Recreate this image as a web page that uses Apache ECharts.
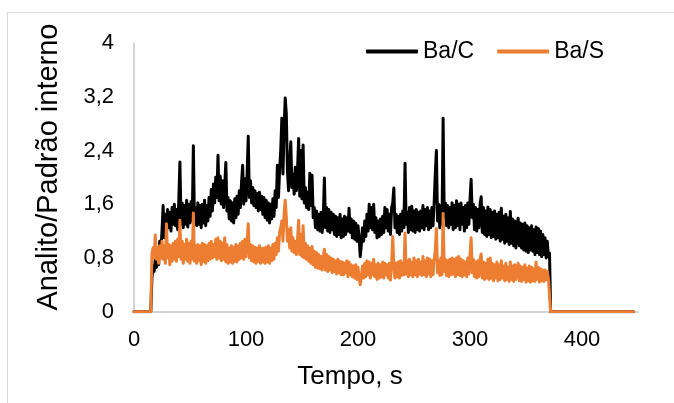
<!DOCTYPE html>
<html>
<head>
<meta charset="utf-8">
<script src="https://cdn.jsdelivr.net/npm/echarts@6/dist/echarts.min.js"></script>
<style>html,body{margin:0;padding:0;background:#fff;}#c{width:674px;height:403px;}</style>
</head>
<body>
<div id="c"></div>
<script>
// Time axis: samples are 1 s apart, starting at tStart (s)
const tStart = 16;
const tStep = 1;
// baseline (zero) segments before and after the ablation signal
const leadTimes = [0, 15];
const tailTimes = [372, 446];
const xTicks = [0, 100, 200, 300, 400];
const yTicks = [0, 0.8, 1.6, 2.4, 3.2, 4];

const baC = [
  0.50,0.68,0.60,0.78,0.66,0.82,0.70,1.05,0.90,1.20,
  1.58,1.10,1.45,1.18,1.52,1.25,1.48,1.20,1.55,1.30,
  1.60,1.28,1.52,1.22,1.66,2.23,1.30,1.62,1.25,1.58,
  1.30,1.66,1.26,1.60,1.32,1.64,1.35,2.47,1.30,1.55,
  1.28,1.62,1.30,1.58,1.25,1.60,1.32,1.66,1.28,1.58,
  1.35,1.70,1.42,1.82,1.50,1.90,1.62,2.00,1.70,2.33,
  1.65,2.02,1.60,1.95,1.55,1.88,2.22,1.50,1.70,1.38,
  1.65,1.35,1.62,1.32,1.68,1.40,1.72,1.45,1.80,1.55,
  1.92,2.18,1.60,1.98,1.65,2.05,2.61,1.70,1.95,1.62,
  1.85,1.58,1.80,1.55,1.76,1.50,1.78,1.52,1.72,1.45,
  1.70,1.40,1.66,1.36,1.62,1.32,1.60,1.38,1.68,1.42,
  1.80,1.55,2.18,1.70,2.10,2.40,2.88,2.05,2.70,3.18,
  2.95,2.10,1.80,2.20,2.53,1.85,2.05,1.75,2.15,1.80,
  2.10,2.58,1.72,2.40,1.68,2.48,1.62,1.85,1.55,1.78,
  1.52,2.06,1.58,2.03,1.40,1.55,1.25,1.50,1.22,1.45,
  1.20,1.48,1.18,1.42,1.99,1.25,1.55,1.20,1.52,1.18,
  1.48,1.22,1.45,1.15,1.42,1.12,1.40,1.15,1.45,1.10,
  1.38,1.12,1.42,1.15,1.40,1.20,1.54,1.18,1.38,1.10,
  1.35,1.08,1.32,1.05,1.28,1.10,0.82,1.00,1.25,1.05,
  1.35,1.12,1.45,1.20,1.60,1.25,1.55,1.22,1.60,1.18,
  1.40,1.10,1.35,1.12,1.38,1.15,1.42,1.18,1.55,1.25,
  1.52,1.20,1.45,1.15,1.55,1.62,1.84,1.25,1.45,1.18,
  1.42,1.15,1.45,1.20,1.50,1.25,2.21,1.30,1.48,1.18,
  1.55,1.22,1.57,1.20,1.50,1.18,1.52,1.22,1.48,1.20,
  1.50,1.25,1.58,1.22,1.52,1.28,1.55,1.22,1.50,1.25,
  1.55,1.28,1.62,2.05,2.40,1.35,1.60,1.25,1.58,1.30,
  2.88,1.40,1.62,1.28,1.58,1.25,1.55,1.30,1.62,1.22,
  1.58,1.25,1.65,1.28,1.60,1.22,1.62,1.30,1.55,1.20,
  1.58,1.25,1.62,1.30,1.66,1.97,1.40,1.60,1.22,1.55,
  1.20,1.52,1.25,1.60,1.71,1.18,1.55,1.15,1.50,1.12,
  1.56,1.15,1.52,1.10,1.48,1.12,1.50,1.08,1.45,1.10,
  1.48,1.05,1.54,1.08,1.42,1.02,1.45,1.05,1.40,1.00,
  1.49,1.02,1.38,0.98,1.35,0.95,1.30,1.39,0.98,1.32,
  0.95,1.30,0.92,1.32,0.90,1.28,0.88,1.25,0.92,1.28,
  0.90,1.22,0.85,1.26,0.88,1.24,0.85,1.20,0.82,1.15,
  0.85,1.10,0.80,1.05,0.82,0.87
];

const baS = [
  0.85,0.95,0.80,1.14,0.78,0.95,0.72,0.98,0.80,1.05,
  0.78,0.98,0.72,1.31,0.80,1.00,0.70,0.98,0.75,1.02,
  0.78,1.05,0.75,1.08,0.82,1.36,0.78,1.05,0.72,1.00,
  0.78,1.08,0.75,1.02,0.72,1.05,0.78,1.47,0.75,0.98,
  0.72,1.00,0.76,0.98,0.70,1.02,0.75,1.00,0.72,0.98,
  0.76,1.02,0.78,1.05,0.80,1.00,0.82,1.08,0.78,1.10,
  0.80,1.05,0.76,1.02,0.78,1.10,0.74,1.00,0.72,0.95,
  0.74,0.98,0.72,0.96,0.75,1.00,0.74,0.98,0.78,1.02,
  0.80,1.05,0.78,1.08,0.82,1.02,1.31,0.80,1.00,0.76,
  0.98,0.74,0.96,0.72,0.95,0.75,0.98,0.72,0.94,0.74,
  0.95,0.72,0.96,0.74,0.98,0.72,0.95,0.76,1.00,0.78,
  1.02,0.85,1.10,0.90,1.18,1.25,1.35,1.05,1.45,1.66,
  1.40,1.05,1.22,0.95,1.25,0.90,1.10,0.88,1.05,0.85,
  1.08,1.36,0.85,1.15,0.82,1.28,0.80,1.02,0.78,0.98,
  0.75,0.95,0.72,0.97,0.70,0.90,0.66,0.88,0.65,0.85,
  0.64,0.82,0.62,0.80,0.93,0.62,0.85,0.60,0.82,0.62,
  0.80,0.58,0.78,0.60,0.76,0.56,0.78,0.58,0.75,0.55,
  0.74,0.55,0.72,0.58,0.76,0.52,0.74,0.55,0.70,0.52,
  0.68,0.50,0.70,0.48,0.66,0.50,0.40,0.52,0.68,0.50,
  0.72,0.52,0.76,0.55,0.74,0.50,0.72,0.55,0.78,0.52,
  0.70,0.48,0.72,0.50,0.70,0.52,0.74,0.50,0.72,0.55,
  0.70,0.50,0.72,0.47,0.68,1.12,0.70,0.50,0.72,0.52,
  0.74,0.50,0.76,0.54,0.72,0.55,1.17,0.56,0.76,0.52,
  0.78,0.55,0.74,0.52,0.80,0.55,0.76,0.52,0.78,0.56,
  0.74,0.54,0.82,0.55,0.76,0.52,0.80,0.56,0.78,0.52,
  0.76,0.55,0.78,0.90,1.24,0.58,0.76,0.54,0.80,0.55,
  1.46,0.60,0.78,0.54,0.76,0.52,0.78,0.55,0.80,0.56,
  0.78,0.52,0.80,0.55,0.82,0.54,0.78,0.52,0.76,0.55,
  0.74,0.52,0.80,0.56,0.84,1.10,0.58,0.78,0.52,0.74,
  0.50,0.76,0.52,0.78,0.86,0.50,0.74,0.48,0.72,0.50,
  0.78,0.48,0.80,0.50,0.72,0.46,0.70,0.50,0.74,0.46,
  0.70,0.48,0.76,0.50,0.68,0.46,0.72,0.48,0.66,0.45,
  0.74,0.48,0.68,0.45,0.70,0.48,0.66,0.72,0.46,0.68,
  0.45,0.66,0.48,0.70,0.44,0.65,0.46,0.68,0.44,0.66,
  0.46,0.64,0.45,0.74,0.48,0.66,0.44,0.64,0.46,0.62,
  0.45,0.62,0.48,0.60,0.50,0.52
];

function build(vals) {
  const d = leadTimes.map(t => [t, 0]);
  vals.forEach((v, i) => d.push([tStart + i * tStep, v]));
  tailTimes.forEach(t => d.push([t, 0]));
  return d;
}

const FONT = '"Liberation Sans", Arial, sans-serif';
const chart = echarts.init(document.getElementById('c'), null, {renderer: 'canvas'});
chart.setOption({
  animation: false,
  backgroundColor: '#fff',
  grid: {left: 134, top: 43, width: 504, height: 268.7, containLabel: false},
  xAxis: {
    type: 'value', min: 0, max: 450, interval: 100,
    axisLine: {show: true, onZero: false, lineStyle: {color: '#c6c6c6', width: 1.5}},
    axisTick: {show: false},
    splitLine: {show: false},
    axisLabel: {
      margin: 17, fontSize: 22, fontFamily: FONT, color: '#000',
      customValues: xTicks
    }
  },
  yAxis: {
    type: 'value', min: 0, max: 4, interval: 0.8,
    axisLine: {show: true, lineStyle: {color: '#c6c6c6', width: 1.5}},
    axisTick: {show: false},
    splitLine: {show: false},
    axisLabel: {
      margin: 20, fontSize: 22, fontFamily: FONT, color: '#000',
      customValues: yTicks,
      formatter: v => String(Math.round(v * 10) / 10).replace('.', ',')
    }
  },
  legend: {
    left: 366, top: 40, padding: 0, itemGap: 23,
    itemWidth: 52, itemHeight: 4, icon: 'roundRect',
    textStyle: {fontSize: 23, fontFamily: FONT, color: '#000'},
    data: ['Ba/C', 'Ba/S']
  },
  graphic: [
    {type: 'rect', shape: {x: 7.5, y: 12.5, width: 720, height: 450},
     style: {fill: 'none', stroke: '#d9d9d9', lineWidth: 1}, silent: true, z: -1},
    {type: 'text', x: 350, y: 377,
     style: {text: 'Tempo, s', font: '26px ' + FONT, fill: '#000', textAlign: 'center', textVerticalAlign: 'middle'}},
    {type: 'text', x: 49, y: 167, rotation: Math.PI / 2,
     style: {text: 'Analito/Padrão interno', font: '29px ' + FONT, fill: '#000', textAlign: 'center', textVerticalAlign: 'middle'}}
  ],
  series: [
    {name: 'Ba/C', type: 'line', data: build(baC), symbol: 'none', showSymbol: false,
     lineStyle: {color: '#000000', width: 3, join: 'round', cap: 'round'}, itemStyle: {color: '#000000'}, z: 2},
    {name: 'Ba/S', type: 'line', data: build(baS), symbol: 'none', showSymbol: false,
     lineStyle: {color: '#ED7D31', width: 3, join: 'round', cap: 'round'}, itemStyle: {color: '#ED7D31'}, z: 3}
  ]
});
</script>
</body>
</html>
